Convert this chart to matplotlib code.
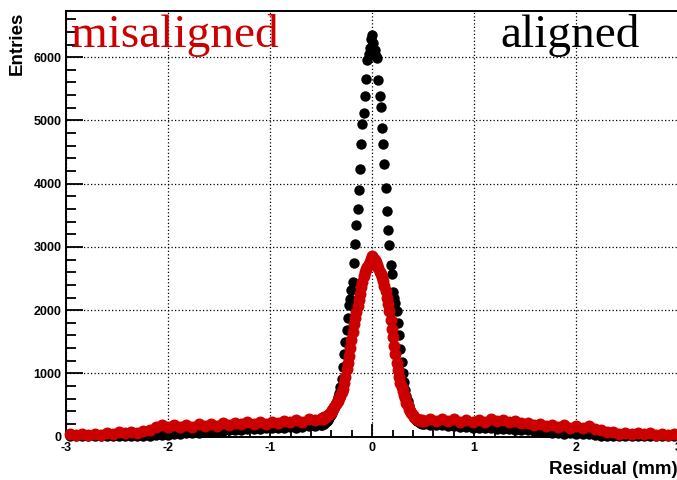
import numpy as np
import matplotlib
matplotlib.use("Agg")
from matplotlib import pyplot as plt
from matplotlib.ticker import MultipleLocator, FormatStrFormatter

plt.rcParams['font.family'] = 'Liberation Sans'
plt.rcParams['font.weight'] = 'bold'
plt.rcParams['axes.unicode_minus'] = False

# bin centres (mm): fine binning in the peak, every 5th bin in the tails
bins_core = np.round(np.arange(-42, 43) * 0.012, 3)
bins_left = np.round(np.arange(-2.964, -0.56, 0.06), 3)
bins_right = np.round(np.arange(0.564, 2.97, 0.06), 3)

# aligned (black)
aligned_core = [180, 185, 195, 205, 225, 245, 270, 300, 340, 380,
                420, 460, 510, 560, 620, 690, 790, 920, 1100, 1300,
                1500, 1690, 1880, 2080, 2180, 2320, 2450, 2750, 3050, 3340,
                3600, 3900, 4230, 4620, 4950, 5110, 5380, 5650, 5960, 6050,
                6150, 6280,
                6350,
                6230, 6110, 6020, 5990, 5640, 5380, 5210, 4880, 4620, 4310,
                3930, 3570, 3270, 3030, 2715, 2580, 2290, 2200, 2110, 1980,
                1800, 1600, 1380, 1180, 1000, 860, 740, 640, 560, 490,
                430, 390, 350, 320, 290, 265, 245, 230, 220, 210,
                200, 195]
aligned_left = [5, 10, 5, 8, 12, 5, 10, 15, 8, 12,
                15, 10, 18, 15, 20, 25, 30, 40, 45, 55,
                60, 65, 70, 80, 85, 95, 100, 105, 110, 115,
                120, 125, 130, 135, 140, 145, 150, 140, 150, 165,
                175]
aligned_right = [190, 180, 185, 170, 165, 160, 150, 145, 140, 130,
                 135, 120, 115, 120, 110, 105, 100, 95, 90, 70,
                 60, 55, 50, 55, 50, 45, 40, 25, 15, 10,
                 8, 5, 8, 5, 10, 6, 5, 8, 5, 6,
                 5]

# misaligned (red)
misaligned_core = [280, 290, 285, 305, 310, 335, 345, 365, 380, 415,
                   440, 475, 510, 545, 570, 615, 650, 705, 760, 855,
                   950, 1065, 1170, 1275, 1400, 1535, 1650, 1775, 1870, 1975,
                   2070, 2165, 2250, 2365, 2440, 2545, 2600, 2655, 2680, 2725,
                   2760, 2815,
                   2850,
                   2825, 2790, 2755, 2710, 2665, 2610, 2565, 2520, 2465, 2380,
                   2305, 2200, 2100, 1980, 1850, 1710, 1570, 1440, 1300, 1170,
                   1050, 940, 855, 780, 725, 660, 605, 540, 495, 440,
                   405, 370, 345, 315, 300, 280, 275, 262, 265, 255,
                   268, 255]
misaligned_left = [40, 20, 45, 25, 50, 30, 65, 45, 70, 55,
                   80, 60, 85, 110, 150, 185, 150, 190, 155, 185,
                   160, 195, 165, 205, 175, 210, 185, 220, 195, 225,
                   200, 235, 205, 240, 215, 255, 225, 265, 240, 285,
                   265]
misaligned_right = [275, 245, 280, 245, 275, 240, 270, 235, 265, 230,
                    275, 245, 260, 225, 250, 215, 210, 180, 205, 170,
                    185, 155, 180, 145, 170, 140, 165, 125, 100, 75,
                    70, 50, 65, 40, 60, 35, 55, 30, 50, 30,
                    45]

red = '#cc0000'

fig = plt.figure(figsize=(6.77, 4.80), dpi=100)
ax = fig.add_axes([66.4 / 677, 43.3 / 480, 611.6 / 677, 425.7 / 480])

x_all = np.concatenate([bins_left, bins_core, bins_right])
y_al = np.concatenate([aligned_left, aligned_core, aligned_right])
y_mis = np.concatenate([misaligned_left, misaligned_core, misaligned_right])

ax.plot(x_all, y_al, 'o', color='black', ms=7.5, mew=0, clip_on=False, zorder=3)
ax.plot(x_all, y_mis, 'o', color=red, ms=8.6, mew=0, clip_on=False, zorder=4)

ax.set_xlim(-3, 3)
ax.set_ylim(0, 6730)

ax.xaxis.set_major_locator(MultipleLocator(1))
ax.xaxis.set_minor_locator(MultipleLocator(0.2))
ax.yaxis.set_major_locator(MultipleLocator(1000))
ax.yaxis.set_minor_locator(MultipleLocator(200))
ax.xaxis.set_major_formatter(FormatStrFormatter('%d'))
ax.yaxis.set_major_formatter(FormatStrFormatter('%d'))

ax.tick_params(which='both', direction='in', top=False, right=False, labelsize=9)
ax.tick_params(axis='y', which='major', length=12, width=1.3, pad=3.5)
ax.tick_params(axis='y', which='minor', length=7, width=1.3)
ax.tick_params(axis='x', which='major', length=9.5, width=1.3, pad=4)
ax.tick_params(axis='x', which='minor', length=5, width=1.3)

for s in ax.spines.values():
    s.set_linewidth(1.4)

ax.set_axisbelow(True)
ax.grid(True, which='major', color='black', linestyle=(0, (1, 1.8)), linewidth=0.9)

fig.text(17.5 / 677, 1 - 12 / 480, 'Entries', rotation=90, ha='center', va='top', fontsize=13.5)
fig.text(678 / 677, 1 - 474 / 480, 'Residual (mm)', ha='right', va='baseline', fontsize=13.5)

fig.text(71 / 677, 1 - 47 / 480, 'misaligned', color=red, family='Liberation Serif',
         fontweight='normal', fontsize=34, va='baseline')
fig.text(500 / 677, 1 - 47 / 480, 'aligned', color='black', family='Liberation Serif',
         fontweight='normal', fontsize=34, va='baseline')

fig.savefig('out.png', dpi=100)
